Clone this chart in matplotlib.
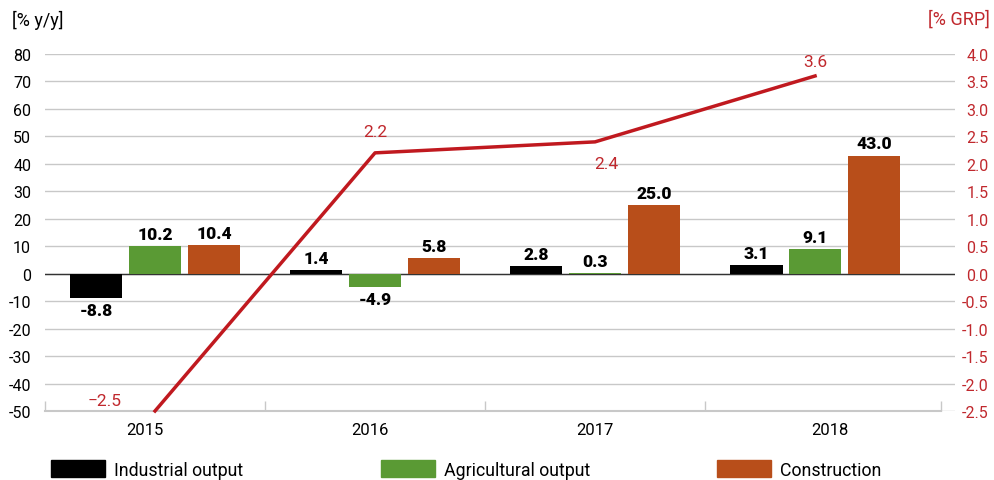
import matplotlib.pyplot as plt
import matplotlib.patches as mpatches
import numpy as np

plt.rcParams['font.family'] = ['Roboto', 'DejaVu Sans']

years = ['2015', '2016', '2017', '2018']
industrial = [-8.8, 1.4, 2.8, 3.1]
agricultural = [10.2, -4.9, 0.3, 9.1]
construction = [10.4, 5.8, 25.0, 43.0]
grp = [-2.5, 2.2, 2.4, 3.6]

left_ticks = list(range(-50, 81, 10))
right_ticks = [-2.5, -2.0, -1.5, -1.0, -0.5, 0.0, 0.5, 1.0, 1.5, 2.0, 2.5, 3.0, 3.5, 4.0]

RED = '#c0282d'
GREEN = '#5a9a34'
ORANGE = '#b84e1a'

fig = plt.figure(figsize=(9.94, 4.81), dpi=100)
ax = fig.add_axes([45 / 994, 1 - 412 / 481, (955 - 45) / 994, (412 - 55) / 481])
ax2 = ax.twinx()

x = np.arange(len(years))
w = 0.24
off = 0.268

series = [(industrial, 'black', 'Industrial output'),
          (agricultural, GREEN, 'Agricultural output'),
          (construction, ORANGE, 'Construction')]

for i, (vals, col, name) in enumerate(series):
    pos = x + (i - 1) * off
    ax.bar(pos, vals, w, color=col, zorder=3)
    for p, v in zip(pos, vals):
        if v >= 0:
            ax.text(p, v + 1.5, f'{v:.1f}', ha='center', va='bottom',
                    fontsize=12.5, fontweight='heavy', zorder=4)
        else:
            ax.text(p, v - 1.5, f'{v:.1f}', ha='center', va='top',
                    fontsize=12.5, fontweight='heavy', zorder=4)

ax.set_ylim(-50, 80)
ax.set_xlim(-0.5, 3.636)
ax.set_yticks(left_ticks)
ax.set_yticklabels([str(t) for t in left_ticks])
ax.grid(axis='y', color='#c8c8c8', linewidth=1, zorder=0)
ax.axhline(0, color='#333333', linewidth=1, zorder=2)
ax.tick_params(axis='y', length=0, pad=10, labelsize=11.5)
# year labels sit slightly off the group centres in the original
ax.set_xticks([-0.045, 0.977, 2.0, 3.068])
ax.set_xticklabels(years)
ax.tick_params(axis='x', length=0, pad=8, labelsize=12)
ax.set_xticks([-0.5, 0.5, 1.5, 2.5, 3.573], minor=True)
ax.tick_params(axis='x', which='minor', direction='in', length=7,
               color='#c8c8c8', width=1)
for s in ['top', 'left', 'right']:
    ax.spines[s].set_visible(False)
ax.spines['bottom'].set_color('#c8c8c8')
ax.spines['bottom'].set_linewidth(1.5)
ax.spines['bottom'].set_bounds(-0.5, 3.573)

ax2.plot(x, grp, color='#c0191f', linewidth=2.5, zorder=5, clip_on=False)
ax2.set_ylim(-2.5, 4.0)
ax2.set_yticks(right_ticks)
ax2.set_yticklabels([f'{t:.1f}' for t in right_ticks], ha='right')
ax2.tick_params(axis='y', length=0, pad=24, labelsize=11.5, labelcolor=RED)
for s in ['top', 'left', 'right', 'bottom']:
    ax2.spines[s].set_visible(False)

lbl_off = [(-0.15, 0.05, 'right', 'bottom'), (0.0, 0.25, 'center', 'bottom'),
           (0.05, -0.25, 'center', 'top'), (0.0, 0.13, 'center', 'bottom')]
for xi, v, (dx, dy, ha, va) in zip(x, grp, lbl_off):
    ax2.text(xi + dx, v + dy, f'{v:.1f}'.replace('-', '\u2212'), color=RED,
             fontsize=12.5, ha=ha, va=va, zorder=6)

fig.text(12 / 994, 1 - 20 / 481, '[% y/y]', fontsize=13, va='center', ha='left')
fig.text(990 / 994, 1 - 20 / 481, '[% GRP]', fontsize=13, va='center', ha='right',
         color=RED)

leg_x = [51, 381, 717]
for (vals, col, name), lx in zip(series, leg_x):
    fig.patches.append(mpatches.Rectangle((lx / 994, 1 - 478 / 481), 54 / 994, 17 / 481,
                                          color=col, transform=fig.transFigure))
    fig.text((lx + 63) / 994, 1 - 471 / 481, name, fontsize=12.8, va='center', ha='left')

fig.savefig('out.png', dpi=100)
